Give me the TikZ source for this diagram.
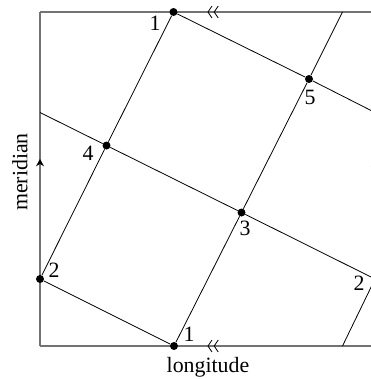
\documentclass[tikz,border=0pt]{standalone}
\usepackage{fontspec}
\setmainfont{Liberation Serif}
\usetikzlibrary{arrows.meta,decorations.markings}
\tikzset{
  frame/.style={draw=black!55, line width=1.1pt},
  geo/.style={draw=black, line width=0.6pt},
  pt/.style={circle, fill=black, inner sep=0pt, minimum size=6pt},
  num/.style={font=\fontsize{16.4}{18}\selectfont, inner sep=0pt},
  dbl/.style={postaction=decorate, decoration={markings,
      mark=at position #1 with {\arrow[black, line width=0.6pt]{Straight Barb[length=3pt,width=9pt,sep=1pt] Straight Barb[length=3pt,width=9pt]}}}},
  sgl/.style={postaction=decorate, decoration={markings,
      mark=at position #1 with {\arrow[black]{Stealth[length=5.5pt,width=6pt]}}}},
}
\begin{document}
\begin{tikzpicture}[x=0.75pt, y=-0.75pt]
  \useasboundingbox (0,0) rectangle (371,379);
  \clip (0,0) rectangle (371,379);
  % corners of the square
  \coordinate (sw) at (40,346);
  \coordinate (nw) at (40,12);
  \coordinate (ne) at (375,12);
  \coordinate (se) at (375,346);
  % free ends of the lines
  \coordinate (lC) at (40,112.5);
  \coordinate (rD) at (375,112.5);
  \coordinate (tA) at (342.5,12);
  \coordinate (bF) at (342.5,346);
  \coordinate (r2) at (375,279);

  \draw[frame, dbl=0.5] (ne) -- (nw);
  \draw[frame, dbl=0.5] (se) -- (sw);
  \draw[frame, sgl=0.56] (sw) -- (nw);
  \draw[frame, sgl=0.56] (se) -- (ne);

  \node[pt] (p2l) at (40,279) {};
  \node[pt] (p4) at (106.5,145.5) {};
  \node[pt] (p1t) at (173.5,12) {};
  \node[pt] (p1b) at (174,346) {};
  \node[pt] (p3) at (241.5,212.5) {};
  \node[pt] (p5) at (309,79) {};

  \draw[geo] (p2l) -- (p4) -- (p1t);
  \draw[geo] (p1b) -- (p3) -- (p5) -- (tA);
  \draw[geo] (lC) -- (p4) -- (p3) -- (r2);
  \draw[geo] (p1t) -- (p5) -- (rD);
  \draw[geo] (p2l) -- (p1b);
  \draw[geo] (bF) -- (r2);

  \node[num] (n1t) at (155,23) {1};
  \node[num] (n5) at (310,97) {5};
  \node[num] (n4) at (88,153) {4};
  \node[num] (n3) at (245,228) {3};
  \node[num] (n2l) at (54,270) {2};
  \node[num] (n1b) at (189,334) {1};
  \node[num] (n2r) at (359,283) {2};

  \node[num] (lon) at (208,367) {longitude};
  \node[num, rotate=90] (mer) at (20,172) {meridian};
\end{tikzpicture}
\end{document}
